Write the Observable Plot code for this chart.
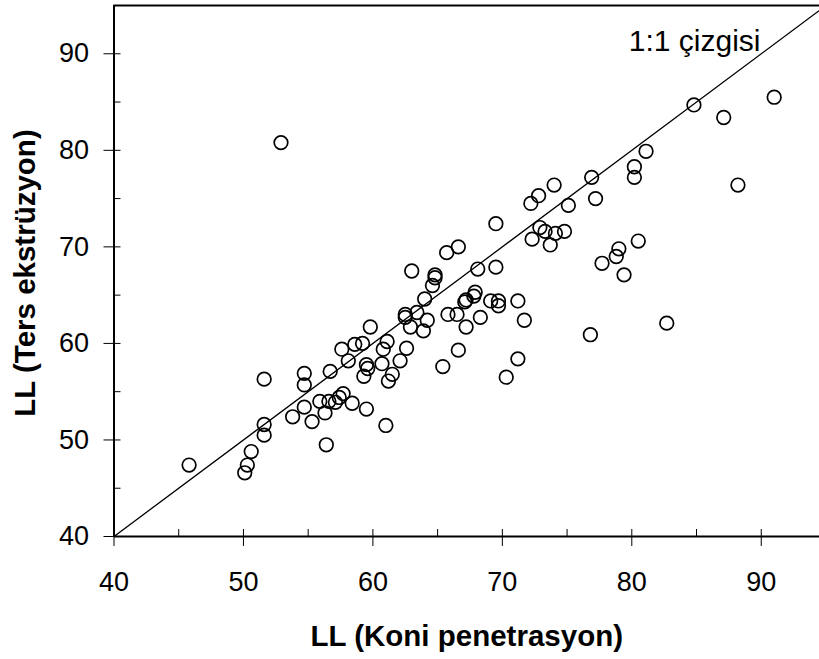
<!DOCTYPE html>
<html>
<head>
<meta charset="utf-8">
<script src="https://cdn.jsdelivr.net/npm/d3@7"></script>
<script src="https://cdn.jsdelivr.net/npm/@observablehq/plot@0.6"></script>
<style>
  html, body { margin: 0; padding: 0; background: #fff; }
  #chart svg { display: block; }
</style>
</head>
<body>
<div id="chart"></div>
<script>
// LL (Koni penetrasyon) — x values
const koniPenetrasyon = [
  45.8, 50.1, 50.3, 50.6, 51.6, 51.6, 51.6, 52.9, 53.8, 54.7,
  54.7, 54.7, 55.3, 55.9, 56.3, 56.4, 56.6, 56.7, 57.1, 57.4,
  57.7, 57.6, 58.1, 58.4, 58.6, 59.2, 59.3, 59.5, 59.5, 59.6,
  59.8, 60.7, 60.8, 61.0, 61.1, 61.2, 61.5, 62.1, 62.6, 62.5,
  62.5, 62.9, 63.4, 63.0, 64.0, 64.2, 63.9, 64.6, 64.8, 64.8,
  65.7, 66.6, 65.8, 66.5, 66.6, 65.4, 67.1, 67.2, 67.9, 67.8,
  67.2, 68.3, 68.1, 69.5, 69.5, 69.1, 69.7, 69.7, 71.2, 71.7,
  71.2, 70.3, 72.3, 72.9, 73.3, 74.1, 74.8, 73.7, 72.2, 72.8,
  74.0, 75.1, 76.9, 77.2, 76.8, 77.7, 78.8, 79.0, 79.4, 80.5,
  80.2, 80.2, 81.1, 82.7, 84.8, 87.1, 88.2, 91.0
];
// LL (Ters ekstrüzyon) — y values
const tersEkstruzyon = [
  47.4, 46.6, 47.4, 48.8, 56.3, 51.6, 50.5, 80.8, 52.4, 56.9,
  55.7, 53.4, 51.9, 54.0, 52.8, 49.5, 54.0, 57.1, 53.9, 54.4,
  54.8, 59.4, 58.2, 53.8, 59.9, 60.0, 56.6, 53.2, 57.8, 57.4,
  61.7, 57.9, 59.4, 51.5, 60.2, 56.1, 56.8, 58.2, 59.5, 63.0,
  62.7, 61.7, 63.2, 67.5, 64.6, 62.4, 61.3, 66.0, 67.1, 66.8,
  69.4, 70.0, 63.0, 63.0, 59.3, 57.6, 64.3, 64.5, 65.3, 64.9,
  61.7, 62.7, 67.7, 67.9, 72.4, 64.4, 64.4, 63.9, 64.4, 62.4,
  58.4, 56.5, 70.8, 72.0, 71.6, 71.4, 71.6, 70.2, 74.5, 75.3,
  76.4, 74.3, 77.2, 75.0, 60.9, 68.3, 69.0, 69.8, 67.1, 70.6,
  78.3, 77.2, 79.9, 62.1, 84.7, 83.4, 76.4, 85.5
];
const majorTicks = [40, 50, 60, 70, 80, 90];
const minorTicks = [45, 55, 65, 75, 85];
const oneToOne = [40, 95];
const xTitle = "LL (Koni penetrasyon)";
const yTitle = "LL (Ters ekstrüzyon)";
const lineLabel = "1:1 çizgisi";

const points = koniPenetrasyon.map((x, i) => ({x, y: tersEkstruzyon[i]}));
const linePts = oneToOne.map(v => ({x: v, y: v}));
const allTicks = majorTicks.concat(minorTicks);

const W = 819, H = 659;
const mL = 113.5, mR = 0, mT = 5, mB = 123;
const innerW = W - mL - mR, innerH = H - mT - mB;
const font = "'Liberation Sans', Arial, Helvetica, sans-serif";

const chart = Plot.plot({
  width: W,
  height: H,
  marginLeft: mL,
  marginRight: mR,
  marginTop: mT,
  marginBottom: mB,
  style: {fontFamily: font, fontSize: "26px", background: "#fff", color: "#000", overflow: "visible"},
  x: {domain: [40, 94.5], axis: null},
  y: {domain: [40, 95], axis: null},
  marks: [
    // 1:1 line
    Plot.line(linePts, {x: "x", y: "y", stroke: "#000", strokeWidth: 1.3, clip: true}),
    // data points
    Plot.dot(points, {x: "x", y: "y", r: 6.8, stroke: "#000", strokeWidth: 1.7, fill: "none"}),
    // inner ticks
    Plot.tickX(allTicks, {x: d => d, insetTop: innerH - 7, stroke: "#000", strokeWidth: 1}),
    Plot.tickY(allTicks, {y: d => d, insetRight: innerW - 7, stroke: "#000", strokeWidth: 1}),
    // outer ticks and labels
    Plot.axisX({ticks: majorTicks, tickSize: 10, tickPadding: 25, fontSize: 27, label: null, tickFormat: d => String(d), stroke: "#000"}),
    Plot.axisY({ticks: majorTicks, tickSize: 10, tickPadding: 15, fontSize: 27, label: null, tickFormat: d => String(d), stroke: "#000"}),
    // frame lines
    Plot.ruleY([40, 95], {stroke: "#000", strokeWidth: 2}),
    Plot.ruleX([40], {stroke: "#000", strokeWidth: 2}),
    // titles
    Plot.text([xTitle], {text: d => d, frameAnchor: "bottom", dy: 100, textAnchor: "middle", lineAnchor: "middle", fontSize: 29.5, fontWeight: "bold", fill: "#000"}),
    Plot.text([yTitle], {text: d => d, frameAnchor: "left", dx: -88.5, dy: 2, textAnchor: "middle", lineAnchor: "middle", rotate: -90, fontSize: 29.5, fontWeight: "bold", fill: "#000"}),
    Plot.text([lineLabel], {text: d => d, frameAnchor: "top-right", dx: -59, dy: 36, textAnchor: "end", lineAnchor: "middle", fontSize: 30, fill: "#000"})
  ]
});
document.getElementById("chart").appendChild(chart);
</script>
</body>
</html>
